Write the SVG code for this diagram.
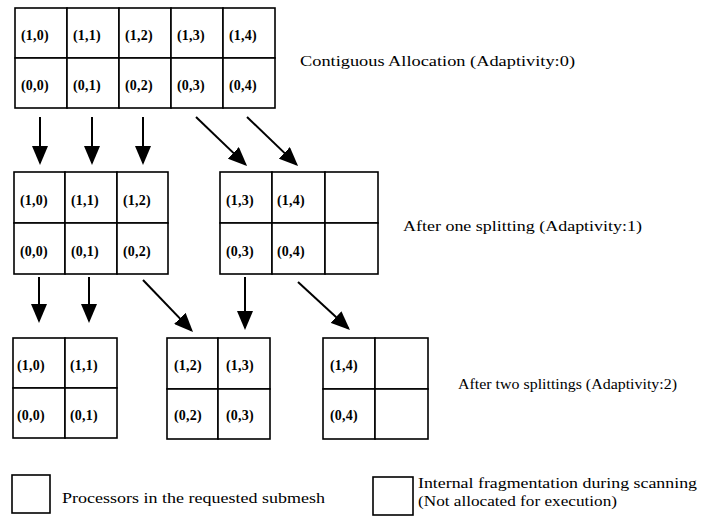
<svg xmlns="http://www.w3.org/2000/svg" width="707" height="517" viewBox="0 0 707 517">
<defs>
<marker id="ah" markerUnits="userSpaceOnUse" markerWidth="19" markerHeight="16" refX="17" refY="8" orient="auto">
<path d="M0,0 L19,8 L0,16 z" fill="#000"/>
</marker>
</defs>
<style>
.c{fill:#fff;stroke:#000;stroke-width:1.6}
.t{font-family:"Liberation Serif",serif;font-weight:bold;font-size:14px;letter-spacing:0.2px;fill:#000}
.l{font-family:"Liberation Serif",serif;font-size:15.5px;fill:#000}
.a{stroke:#000;stroke-width:2;fill:none;marker-end:url(#ah)}
</style>
<rect width="707" height="517" fill="#fff"/>

<g id="grid-top">
<rect class="c" x="15" y="8" width="52" height="50"/><rect class="c" x="67" y="8" width="52" height="50"/><rect class="c" x="119" y="8" width="52" height="50"/><rect class="c" x="171" y="8" width="52" height="50"/><rect class="c" x="223" y="8" width="52" height="50"/>
<rect class="c" x="15" y="58" width="52" height="50"/><rect class="c" x="67" y="58" width="52" height="50"/><rect class="c" x="119" y="58" width="52" height="50"/><rect class="c" x="171" y="58" width="52" height="50"/><rect class="c" x="223" y="58" width="52" height="50"/>
<text class="t" x="21" y="40">(1,0)</text><text class="t" x="73" y="40">(1,1)</text><text class="t" x="125" y="40">(1,2)</text><text class="t" x="177" y="40">(1,3)</text><text class="t" x="229" y="40">(1,4)</text>
<text class="t" x="21" y="90">(0,0)</text><text class="t" x="73" y="90">(0,1)</text><text class="t" x="125" y="90">(0,2)</text><text class="t" x="177" y="90">(0,3)</text><text class="t" x="229" y="90">(0,4)</text>
</g>

<g id="grid-mid-left">
<rect class="c" x="14" y="172" width="51" height="51"/><rect class="c" x="65" y="172" width="52" height="51"/><rect class="c" x="117" y="172" width="51" height="51"/>
<rect class="c" x="14" y="223" width="51" height="51"/><rect class="c" x="65" y="223" width="52" height="51"/><rect class="c" x="117" y="223" width="51" height="51"/>
<text class="t" x="20" y="205">(1,0)</text><text class="t" x="71" y="205">(1,1)</text><text class="t" x="123" y="205">(1,2)</text>
<text class="t" x="20" y="256">(0,0)</text><text class="t" x="71" y="256">(0,1)</text><text class="t" x="123" y="256">(0,2)</text>
</g>

<g id="grid-mid-right">
<rect class="c" x="220" y="172" width="52" height="51"/><rect class="c" x="272" y="172" width="53" height="51"/><rect class="c" x="325" y="172" width="53" height="51"/>
<rect class="c" x="220" y="223" width="52" height="51"/><rect class="c" x="272" y="223" width="53" height="51"/><rect class="c" x="325" y="223" width="53" height="51"/>
<text class="t" x="226" y="205">(1,3)</text><text class="t" x="277" y="205">(1,4)</text>
<text class="t" x="226" y="256">(0,3)</text><text class="t" x="277" y="256">(0,4)</text>
</g>

<g id="grid-bot-left">
<rect class="c" x="13" y="338" width="52" height="50"/><rect class="c" x="65" y="338" width="52" height="50"/>
<rect class="c" x="13" y="388" width="52" height="50"/><rect class="c" x="65" y="388" width="52" height="50"/>
<text class="t" x="17" y="370">(1,0)</text><text class="t" x="70" y="370">(1,1)</text>
<text class="t" x="17" y="420">(0,0)</text><text class="t" x="70" y="420">(0,1)</text>
</g>

<g id="grid-bot-mid">
<rect class="c" x="167" y="338" width="51" height="51"/><rect class="c" x="218" y="338" width="52" height="51"/>
<rect class="c" x="167" y="389" width="51" height="50"/><rect class="c" x="218" y="389" width="52" height="50"/>
<text class="t" x="174" y="370">(1,2)</text><text class="t" x="226" y="370">(1,3)</text>
<text class="t" x="174" y="420">(0,2)</text><text class="t" x="226" y="420">(0,3)</text>
</g>

<g id="grid-bot-right">
<rect class="c" x="323" y="338" width="52" height="51"/><rect class="c" x="375" y="338" width="53" height="51"/>
<rect class="c" x="323" y="389" width="52" height="50"/><rect class="c" x="375" y="389" width="53" height="50"/>
<text class="t" x="330" y="370">(1,4)</text>
<text class="t" x="330" y="420">(0,4)</text>
</g>

<g id="labels">
<text class="l" x="300" y="66" textLength="275" lengthAdjust="spacingAndGlyphs">Contiguous Allocation (Adaptivity:0)</text>
<text class="l" x="403" y="231" textLength="239" lengthAdjust="spacingAndGlyphs">After one splitting (Adaptivity:1)</text>
<text class="l" x="458" y="389" textLength="219" lengthAdjust="spacingAndGlyphs">After two splittings (Adaptivity:2)</text>
</g>

<g id="legend">
<rect class="c" x="12" y="475" width="38" height="38"/>
<text class="l" x="62" y="503" textLength="263" lengthAdjust="spacingAndGlyphs">Processors in the requested submesh</text>
<rect class="c" x="373" y="477" width="40" height="38"/>
<text class="l" x="418" y="488" textLength="279" lengthAdjust="spacingAndGlyphs">Internal fragmentation during scanning</text>
<text class="l" x="418" y="506" textLength="199" lengthAdjust="spacingAndGlyphs">(Not allocated for execution)</text>
</g>

<g id="connectors">
<line class="a" x1="40" y1="117" x2="40" y2="163"/>
<line class="a" x1="92" y1="117" x2="92" y2="163"/>
<line class="a" x1="143" y1="117" x2="143" y2="163"/>
<line class="a" x1="196" y1="117" x2="245.6" y2="164.6"/>
<line class="a" x1="247" y1="117" x2="296.6" y2="164.6"/>
<line class="a" x1="39" y1="277" x2="39" y2="321"/>
<line class="a" x1="89" y1="277" x2="89" y2="321"/>
<line class="a" x1="143" y1="280" x2="191.6" y2="330.6"/>
<line class="a" x1="245" y1="277" x2="245" y2="328"/>
<line class="a" x1="298" y1="282" x2="348.5" y2="328.6"/>
</g>
</svg>
